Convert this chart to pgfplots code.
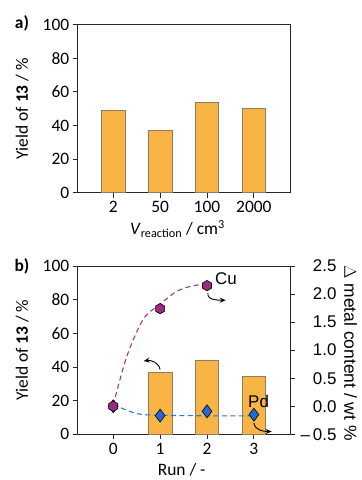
\documentclass[border=0pt]{standalone}
\usepackage{pgfplots}
\pgfplotsset{compat=1.18}
\usepackage{fontspec}
\setmainfont{Carlito}
\newfontfamily\arialf{Liberation Sans}
\usetikzlibrary{arrows.meta}
\definecolor{barfill}{HTML}{F8B444}
\definecolor{baredge}{HTML}{8C7C66}
\definecolor{cucol}{HTML}{9C2A82}
\definecolor{culine}{HTML}{A8347E}
\definecolor{pdcol}{HTML}{2468D8}
\definecolor{pdline}{HTML}{2F74D8}
\pgfdeclareplotmark{hex*}{%
  \pgfpathmoveto{\pgfqpointpolar{90}{\pgfplotmarksize}}%
  \pgfpathlineto{\pgfqpointpolar{150}{\pgfplotmarksize}}%
  \pgfpathlineto{\pgfqpointpolar{210}{\pgfplotmarksize}}%
  \pgfpathlineto{\pgfqpointpolar{270}{\pgfplotmarksize}}%
  \pgfpathlineto{\pgfqpointpolar{330}{\pgfplotmarksize}}%
  \pgfpathlineto{\pgfqpointpolar{30}{\pgfplotmarksize}}%
  \pgfpathclose\pgfusepathqfillstroke}
\pgfplotsset{
  base/.style={
    scale only axis, width=212.3bp, height=168bp,
    xmin=-0.757, xmax=3.77,
    ymin=0, ymax=100, ytick={0,20,...,100},
    xtick={0,1,2,3},
    tick align=outside, tick pos=left,
    major tick length=5bp,
    axis line style={line width=0.9pt, black!85},
    tick style={line width=0.9pt, black!85},
    tick label style={font=\fontsize{17.5}{19}\selectfont},
    label style={font=\fontsize{17.5}{19}\selectfont},
    /pgf/number format/assume math mode=true,
    ylabel={Yield of \textbf{13} / \%},
    ylabel style={at={(axis description cs:-0.262,0.5)}, anchor=center},
  },
}
\begin{document}
\begin{tikzpicture}
\useasboundingbox (0,0) rectangle (362bp,480bp);
% ---------- a) ----------
\begin{axis}[base, at={(77.7bp,287.3bp)}, anchor=south west,
  xticklabels={2,50,100,2000},
  xlabel={\textit{V}\textsubscript{reaction} / cm\textsuperscript{3}},
  xlabel style={at={(axis description cs:0.47,-0.215)}, anchor=center},
]
\addplot[ybar, bar width=0.5, fill=barfill, draw=baredge, line width=0.6pt]
  coordinates {(0,49.2) (1,36.9) (2,53.8) (3,50.0)};
\end{axis}
\node[font=\bfseries\fontsize{17.5}{19}\selectfont] at (22bp,457bp) {a)};
% ---------- b) left ----------
\begin{axis}[base, at={(77.7bp,45.7bp)}, anchor=south west, height=168.3bp,
  xticklabels={0,1,2,3},
  xlabel={Run / -},
  xlabel style={at={(axis description cs:0.49,-0.213)}, anchor=center},
]
\addplot[ybar, bar width=0.5, fill=barfill, draw=baredge, line width=0.6pt]
  coordinates {(1,36.8) (2,44.2) (3,34.5)};
\draw[-{Stealth[length=6bp,width=5bp]}, line width=0.9pt] (axis cs:1.0,38.5) to[out=100, in=10] (axis cs:0.65,43.5);
\end{axis}
% ---------- b) right ----------
\begin{axis}[scale only axis, width=212.3bp, height=168.3bp,
  at={(77.7bp,45.7bp)}, anchor=south west,
  xmin=-0.757, xmax=3.77, axis x line=none,
  ymin=-0.5, ymax=2.5, ytick={-0.5,0,0.5,1,1.5,2,2.5},
  yticklabels={\textendash\,0.5,0.0,0.5,1.0,1.5,2.0,2.5},
  axis y line*=right,
  tick align=outside, major tick length=5bp,
  axis line style={line width=0.9pt, black!85, -},
  tick style={line width=0.9pt, black!85},
  yticklabel style={font=\arialf\fontsize{17}{19}\selectfont, anchor=west, text width=40bp, align=right, xshift=-2bp},
  ylabel={\arialf\fontsize{17.5}{19}\selectfont $\Delta$ metal content / wt \%},
  ylabel style={rotate=180, at={(axis description cs:1.285,1.024)}, anchor=west},
]
\addplot[culine, line width=1.1pt, smooth, dash pattern=on 5bp off 3.5bp]
  coordinates {(0,0.02) (0.29,0.89) (0.64,1.55) (1.0,1.82) (1.36,2.05) (1.71,2.15) (2.0,2.17)};
\addplot[pdline, line width=1.1pt, smooth, dash pattern=on 5bp off 3.5bp]
  coordinates {(0,0.03) (0.5,-0.13) (1.0,-0.16) (2.0,-0.17) (3.0,-0.17)};
\addplot[only marks, mark=diamond*, mark size=6.5bp, mark options={fill=pdcol, draw=black, line width=0.6pt}]
  coordinates {(0,0.0) (1,-0.167) (2,-0.09) (3,-0.15)};
\addplot[only marks, mark=hex*, mark size=5.2bp, mark options={fill=cucol, draw=black, line width=0.6pt}]
  coordinates {(0,0.0) (1,1.74) (2,2.15)};
\node[font=\arialf\fontsize{17}{19}\selectfont, anchor=west] at (axis cs:2.1,2.27) {Cu};
\node[font=\arialf\fontsize{17}{19}\selectfont] at (axis cs:3.1,0.09) {Pd};
\draw[-{Stealth[length=6bp,width=5bp]}, line width=0.9pt] (axis cs:2.02,2.02) to[out=-100, in=180] (axis cs:2.4,1.89);
\draw[-{Stealth[length=6bp,width=5bp]}, line width=0.9pt] (axis cs:3.0,-0.3) to[out=-80, in=180] (axis cs:3.38,-0.45);
\end{axis}
\node[font=\bfseries\fontsize{17.5}{19}\selectfont] at (22bp,214bp) {b)};
\end{tikzpicture}
\end{document}
